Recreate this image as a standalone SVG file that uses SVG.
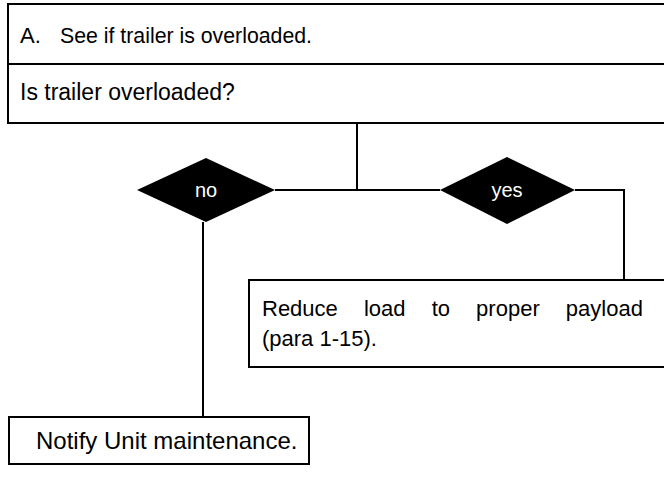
<svg xmlns="http://www.w3.org/2000/svg" width="664" height="479" viewBox="0 0 664 479">
<style>
.box{fill:#fff;stroke:#000;stroke-width:2}
.dia{fill:#000}
.t{font-family:"Liberation Sans",Arial,sans-serif;font-size:22px;fill:#000}
.tw{font-family:"Liberation Sans",Arial,sans-serif;font-size:20px;fill:#fff}
.c{fill:none;stroke:#000;stroke-width:2}
</style>
<rect width="664" height="479" fill="#fff"/>
<g id="connectors">
<path class="c" d="M357,123 V190"/>
<path class="c" d="M275,190 H440"/>
<path class="c" d="M575,190 H624 V280"/>
<path class="c" d="M203,222 V417"/>
</g>
<g id="header">
<rect class="box" x="8" y="4" width="670" height="60"/>
<text class="t" x="20" y="43">A.</text>
<text class="t" x="60" y="43" textLength="252" lengthAdjust="spacingAndGlyphs">See if trailer is overloaded.</text>
</g>
<g id="question">
<rect class="box" x="8" y="64" width="670" height="59"/>
<text class="t" x="20" y="100" style="font-size:23px">Is trailer overloaded?</text>
</g>
<g id="no">
<polygon class="dia" points="137,190 206,158 275,190 206,222"/>
<text class="tw" x="206" y="197" text-anchor="middle">no</text>
</g>
<g id="yes">
<polygon class="dia" points="440,190 507,157 575,190 507,224"/>
<text class="tw" x="507" y="197" text-anchor="middle">yes</text>
</g>
<g id="reduce">
<rect class="box" x="249" y="280" width="430" height="87"/>
<text class="t" x="262" y="316" word-spacing="20">Reduce load to proper payload</text>
<text class="t" x="262" y="346">(para 1-15).</text>
</g>
<g id="notify">
<rect class="box" x="9" y="417" width="300" height="47"/>
<text class="t" x="36" y="449" style="font-size:24px">Notify Unit maintenance.</text>
</g>
</svg>
